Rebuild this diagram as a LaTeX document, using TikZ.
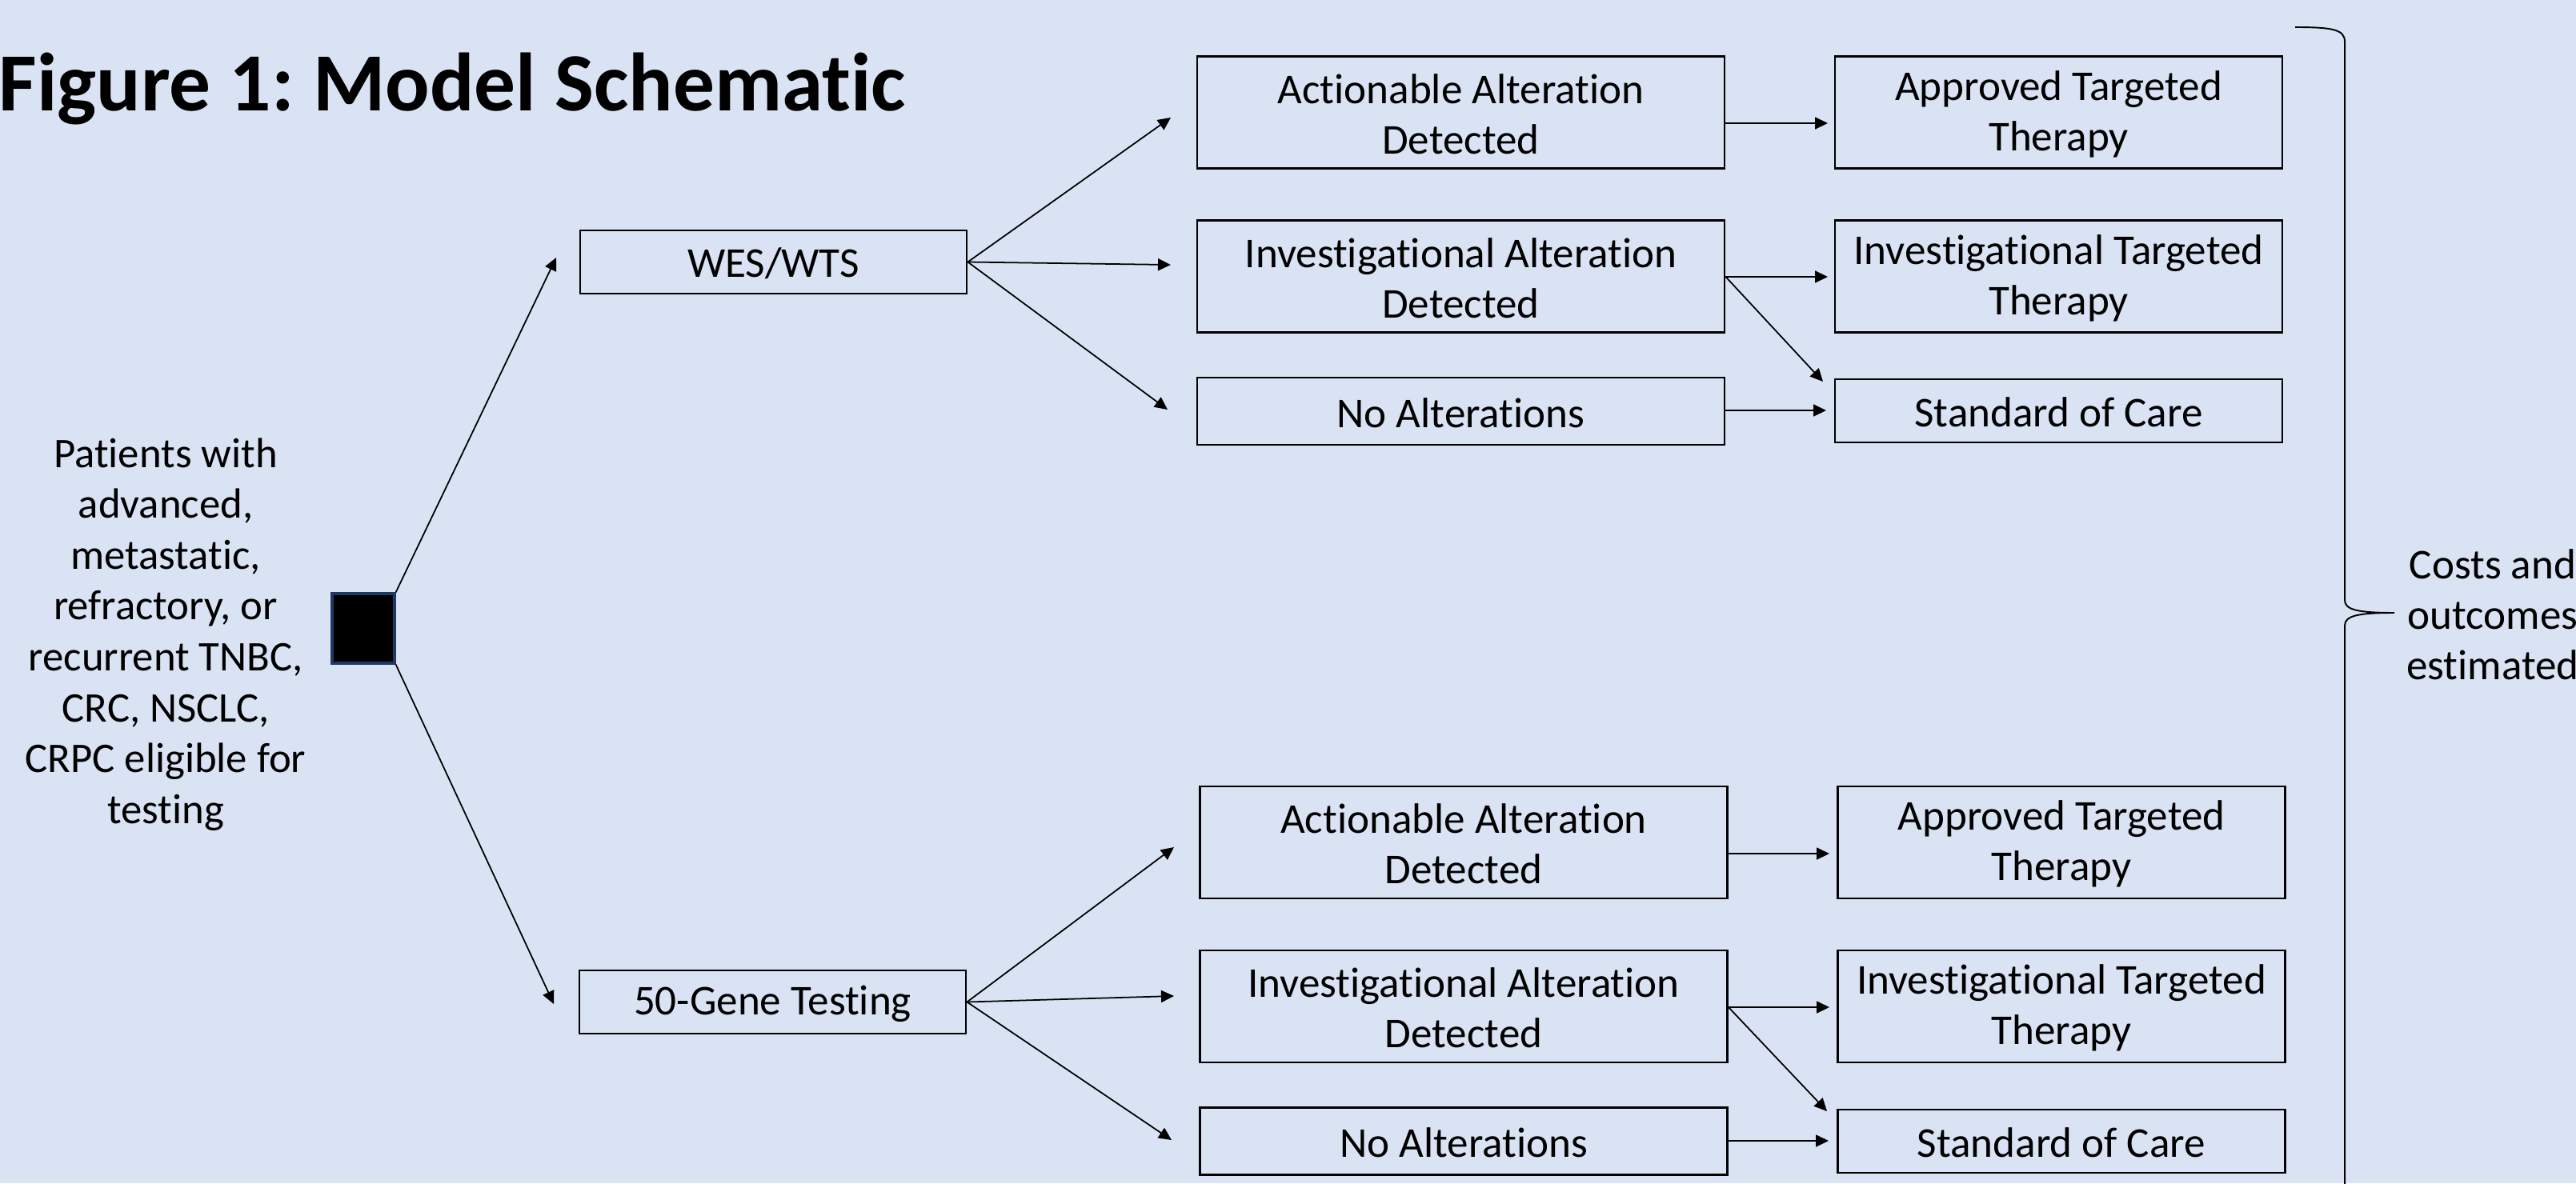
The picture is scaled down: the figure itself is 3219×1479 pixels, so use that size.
\documentclass[tikz,border=0pt]{standalone}
\usepackage{fontspec}
\setmainfont{Carlito}[Ligatures={NoCommon}]
\usetikzlibrary{arrows.meta}
\definecolor{bg}{RGB}{218,227,243}
\definecolor{sqedge}{RGB}{31,56,100}
\newcommand{\boxfont}{\fontsize{15.1}{17.9}\selectfont}
\newcommand{\sidefont}{\fontsize{15}{18.1}\selectfont}
\newcommand{\tl}{\rule{0pt}{0.41cm}}
\begin{document}
\begin{tikzpicture}[x=0.01cm,y=-0.01cm,
  box/.style={draw, line width=0.7pt, inner sep=0pt, align=center, font=\boxfont},
  midbox/.style={box, minimum width=6.59cm},
  outbox/.style={box, minimum width=5.59cm},
  testbox/.style={box, minimum width=4.83cm, minimum height=0.79cm},
  tallbox/.style={minimum height=1.395cm},
  lowbox/.style={minimum height=0.84cm},
  socbox/.style={minimum height=0.79cm},
  arr/.style={-{Triangle[length=0.16cm,width=0.15cm]}, line width=0.5pt},
  plain/.style={inner sep=0pt, align=center}]
\useasboundingbox (0,0) rectangle (3219,1479);
\clip (0,0) rectangle (3219,1479);
\fill[bg] (0,0) rectangle (3219,1479);

% title
\node[inner sep=0pt, anchor=base west, font={\fontsize{29.4}{35}\selectfont\bfseries}] (title) at (-2,139) {Figure 1:\hspace{-0.08cm} Model Schematic};

% patients description and decision square
\node[plain, font=\sidefont] (pat) at (207,793) {Patients with\\advanced,\\metastatic,\\refractory, or\\recurrent TNBC,\\CRC, NSCLC,\\CRPC eligible for\\testing};
\node[draw=sqedge, fill=black, line width=0.9pt, minimum width=0.78cm, minimum height=0.87cm, inner sep=0pt] (sq) at (454,785.5) {};

% tests
\node[testbox] (wes) at (966.5,327.5) {\tl WES/WTS};
\node[testbox] (gene) at (965.5,1252.5) {\tl 50-Gene Testing};

% top group
\node[midbox, tallbox] (aad1) at (1825.5,140.5) {\tl Actionable Alteration\\Detected};
\node[midbox, tallbox] (iad1) at (1825.5,345.5) {\tl Investigational Alteration\\Detected};
\node[midbox, lowbox] (na1) at (1825.5,514) {\tl No Alterations};
\node[outbox, tallbox] (at1) at (2572.5,140.5) {\tl Approved Targeted\\Therapy};
\node[outbox, tallbox] (it1) at (2572.5,345.5) {\tl Investigational Targeted\\Therapy};
\node[outbox, socbox] (soc1) at (2572.5,513.5) {\tl Standard of Care};

% bottom group
\node[midbox, tallbox] (aad2) at (1829,1053) {\tl Actionable Alteration\\Detected};
\node[midbox, tallbox] (iad2) at (1829,1258) {\tl Investigational Alteration\\Detected};
\node[midbox, lowbox] (na2) at (1829,1426.5) {\tl No Alterations};
\node[outbox, tallbox] (at2) at (2576,1053) {\tl Approved Targeted\\Therapy};
\node[outbox, tallbox] (it2) at (2576,1258) {\tl Investigational Targeted\\Therapy};
\node[outbox, socbox] (soc2) at (2576,1426.5) {\tl Standard of Care};

% arrow tip coordinates
\coordinate (twes) at (695,322);
\coordinate (tgene) at (692,1255);
\coordinate (ta1) at (1463,147);
\coordinate (ti1) at (1463,331);
\coordinate (tn1) at (1459,512);
\coordinate (ta2) at (1467,1059);
\coordinate (ti2) at (1467,1245);
\coordinate (tn2) at (1464,1425);
\coordinate (sa1) at (2284,154);
\coordinate (si1) at (2284,346);
\coordinate (sd1) at (2278,477);
\coordinate (sn1) at (2282,513);
\coordinate (sa2) at (2286,1067);
\coordinate (si2) at (2286,1259);
\coordinate (sd2) at (2283,1389);
\coordinate (sn2) at (2285,1426);

% connectors
\draw[arr] (sq.north east) -- (twes);
\draw[arr] (sq.south east) -- (tgene);
\draw[arr] (wes.east) -- (ta1);
\draw[arr] (wes.east) -- (ti1);
\draw[arr] (wes.east) -- (tn1);
\draw[arr] (gene.east) -- (ta2);
\draw[arr] (gene.east) -- (ti2);
\draw[arr] (gene.east) -- (tn2);
\draw[arr] (aad1.east |- sa1) -- (sa1);
\draw[arr] (iad1.east |- si1) -- (si1);
\draw[arr] (iad1.east |- si1) -- (sd1);
\draw[arr] (na1.east |- sn1) -- (sn1);
\draw[arr] (aad2.east |- sa2) -- (sa2);
\draw[arr] (iad2.east |- si2) -- (si2);
\draw[arr] (iad2.east |- si2) -- (sd2);
\draw[arr] (na2.east |- sn2) -- (sn2);

% brace
\draw[line width=0.55pt] (2868,34) .. controls (2915,34) and (2930,37) .. (2930,52)
  -- (2930,750) .. controls (2930,762) and (2945,766) .. (2992,766)
  .. controls (2945,766) and (2930,770) .. (2930,782) -- (2930,1500);

% outcome text
\node[plain, font=\boxfont] (costs) at (3115,768) {Costs and\\outcomes\\estimated};
\end{tikzpicture}
\end{document}
